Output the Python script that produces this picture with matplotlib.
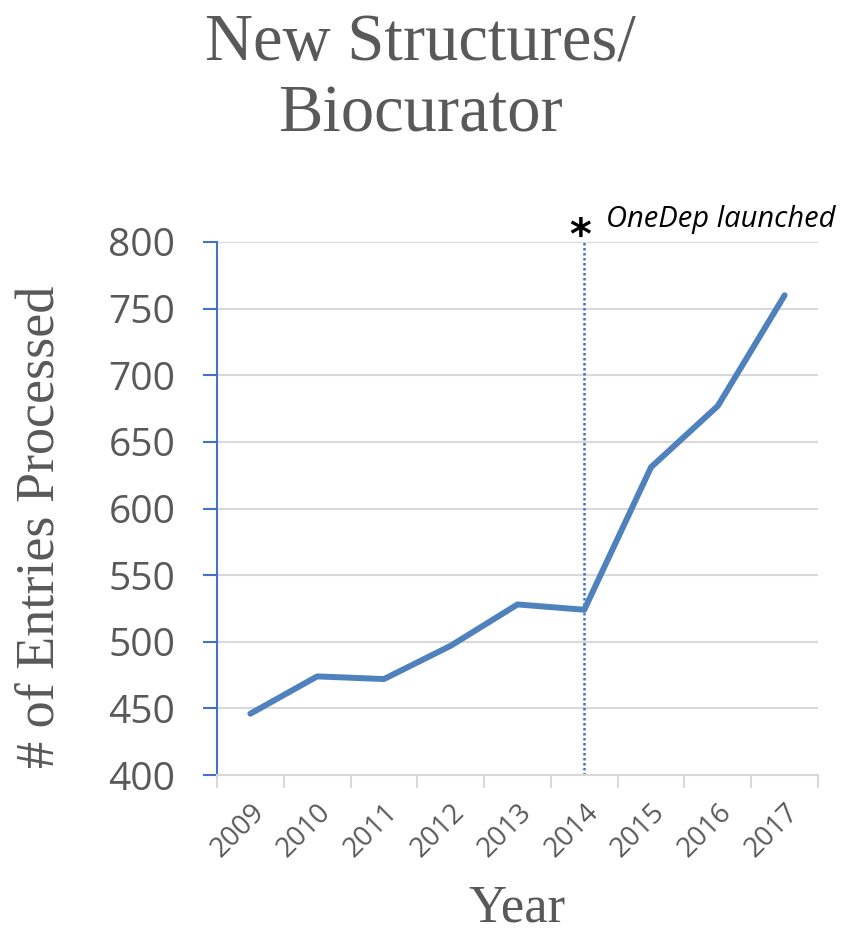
import matplotlib.pyplot as plt

years = ["2009", "2010", "2011", "2012", "2013", "2014", "2015", "2016", "2017"]
entries = [446, 474, 472, 497, 528, 524, 631, 677, 760]
launch_year = "2014"

blue = "#4F81BD"
axis_blue = "#4472C4"
grey_text = "#595959"
grid_grey = "#D9D9D9"

W, H = 852, 935
fig = plt.figure(figsize=(W / 100, H / 100), dpi=100)
ax = fig.add_axes([217 / W, 1 - 775 / H, (818 - 217) / W, (775 - 242) / H])

x = list(range(len(years)))
ax.plot(x, entries, color=blue, linewidth=4.3, solid_capstyle="round",
        solid_joinstyle="round", zorder=3)

# OneDep launch marker
xi = years.index(launch_year)
ax.axvline(xi, color=axis_blue, linestyle=(0, (1, 1)), linewidth=1.8, zorder=2)

ax.set_xlim(-0.5, len(years) - 0.5)
ax.set_ylim(400, 800)
ax.set_yticks(range(400, 801, 50))
ax.yaxis.grid(True, color=grid_grey, linewidth=1.5)
ax.set_axisbelow(True)

for s in ["top", "right"]:
    ax.spines[s].set_visible(False)
ax.spines["left"].set_color(axis_blue)
ax.spines["left"].set_linewidth(1.5)
ax.spines["bottom"].set_color(grid_grey)
ax.spines["bottom"].set_linewidth(1.5)

ax.tick_params(axis="y", colors=axis_blue, length=10, width=1.5, labelcolor=grey_text,
               labelsize=28, pad=20)
ax.set_yticklabels([str(v) for v in range(400, 801, 50)], family="Open Sans")

# category boundaries as ticks, labels at category centres
ax.set_xticks([i - 0.5 for i in range(len(years) + 1)])
ax.set_xticklabels([""] * (len(years) + 1))
ax.tick_params(axis="x", which="major", colors=grid_grey, length=9, width=1.5)
ax.set_xticks(x, minor=True)
ax.set_xticklabels(years, minor=True, rotation=45, ha="right", rotation_mode="anchor",
                   family="Open Sans", fontsize=20, color=grey_text)
ax.tick_params(axis="x", which="minor", length=0, pad=17)

fig.text(40 / W, 1 - 527 / H, "# of Entries Processed", rotation=90, ha="center",
         va="center", family="Liberation Serif", fontsize=39, color=grey_text)
fig.text(517 / W, 1 - 933 / H, "Year", ha="center", va="bottom",
         family="Liberation Serif", fontsize=38, color=grey_text)

fig.text(420 / W, 1 - 61 / H, "New Structures/", ha="center", va="baseline",
         family="Liberation Serif", fontsize=48, color=grey_text)
fig.text(420 / W, 1 - 131 / H, "Biocurator", ha="center", va="baseline",
         family="Liberation Serif", fontsize=48, color=grey_text)

fig.text(580 / W, 1 - 249 / H, "*", fontsize=30, fontweight="bold", color="black",
         ha="center", va="baseline", family="DejaVu Sans")
fig.text(606 / W, 1 - 227 / H, "OneDep launched", fontsize=21, style="italic",
         color="black", ha="left", va="baseline", family="Open Sans")

fig.savefig("out.png", dpi=100)
